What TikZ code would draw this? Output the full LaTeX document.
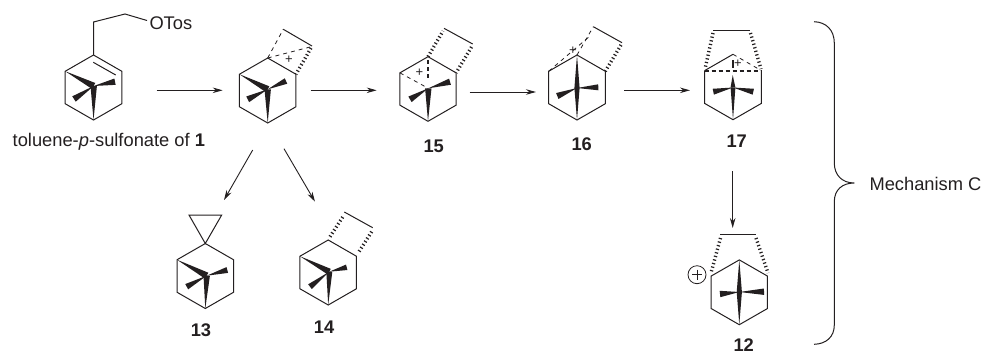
\documentclass[tikz,border=0pt]{standalone}
\usepackage{fontspec}
\setmainfont{Liberation Sans}
\usetikzlibrary{arrows.meta,calc}
\definecolor{ink}{HTML}{231F20}
\tikzset{
  bond/.style={draw=ink,line width=1pt,line join=miter},
  hashb/.style={draw=ink,line width=3.4pt,dash pattern=on 1.2pt off 2.5pt},
  thindash/.style={draw=ink,line width=.8pt,dash pattern=on 4pt off 4pt},
  bolddash/.style={draw=ink,line width=1.8pt,dash pattern=on 4pt off 3pt},
  rxn/.style={draw=ink,line width=.9pt,-{Stealth[length=10pt,width=5.5pt]},shorten >=0pt},
  lab/.style={font=\fontsize{18.3}{20}\selectfont,text=ink,inner sep=0pt},
  num/.style={font=\fontsize{18.3}{20}\selectfont\bfseries,text=ink,inner sep=0pt},
  plus/.style={font=\fontsize{13}{14}\selectfont,text=ink,inner sep=0pt},
}
% hexagon: centre x, centre y, half height
\newcommand{\hexa}[4]{%
  \coordinate (#4t) at (#1,#2-#3);
  \coordinate (#4b) at (#1,#2+#3);
  \coordinate (#4ul) at (#1-0.87*#3,#2-0.5*#3);
  \coordinate (#4ur) at (#1+0.87*#3,#2-0.5*#3);
  \coordinate (#4ll) at (#1-0.87*#3,#2+0.5*#3);
  \coordinate (#4lr) at (#1+0.87*#3,#2+0.5*#3);
}
% wedge: apex, wide end, half width
\newcommand{\wdg}[3]{\fill[ink] (#1) -- ($(#2)!#3!90:(#1)$) -- ($(#2)!#3!-90:(#1)$) -- cycle;}
\begin{document}
\begin{tikzpicture}[x=1pt,y=-1pt]
\useasboundingbox (0,0) rectangle (985,354);
% ---------- starting material
\hexa{93.5}{87.5}{32.5}{A}
\coordinate (Ah) at (93.7,86);
\draw[bond] (At)--(Aur)--(Alr)--(Ab)--(All)--(Aul)--cycle;
\draw[bond] (93.3,62.3)--(115.7,75);
\draw[bond] (At)--(93.5,22)--(125,14)--(147,20.5);
\node[lab,anchor=west] (otos) at (149.3,23) {OTos};
\wdg{Aul}{Ah}{3.4pt}\wdg{Ab}{Ah}{3.2pt}
\wdg{Ah}{115,81.7}{3.2pt}\wdg{Ah}{74,99}{3.2pt}
\node[lab,anchor=west] (tol) at (12.5,142) {toluene-\textit{p}-sulfonate of \textbf{1}};
% ---------- bridged cation
\hexa{267.7}{90.5}{32.5}{B}
\coordinate (Bh) at (267.7,89.3);
\draw[bond] (Bt)--(Bur)--(Blr)--(Bb)--(Bll)--(Bul)--cycle;
\draw[thindash] (Bt)--(283.3,29.3);
\draw[bond] (283.3,29.3)--(312,46);
\draw[thindash] (Bt)--(310,47);
\draw[hashb] (311,48)--(Bur);
\node[plus] (pb) at (289,60) {+};
\wdg{Bul}{Bh}{3.4pt}\wdg{Bb}{Bh}{3.2pt}
\wdg{Bh}{286,81}{3pt}\wdg{Bh}{247.7,99.3}{3.2pt}
% ---------- 15
\hexa{428}{89}{32.3}{C}
\coordinate (Ch) at (428.3,88.3);
\draw[bond] (Ct)--(Cur)--(Clr)--(Cb)--(Cll)--(Cul)--cycle;
\draw[hashb] (Ct)--(443,31);
\draw[bond] (444,28.3)--(472.7,44);
\draw[hashb] (471.5,47)--(Cur);
\draw[bolddash] (428,60)--(428,80);
\draw[thindash] (Cul)--(Ch);
\node[plus] (pc) at (419.3,72.7) {+};
\wdg{Cb}{Ch}{3.2pt}
\wdg{Ch}{450,81.7}{3.2pt}\wdg{Ch}{410,99.3}{3.2pt}
\node[num] (n15) at (433.7,146) {15};
% ---------- 16
\hexa{577}{87.5}{32.5}{D}
\coordinate (Dh) at (577,88);
\draw[bond] (Dt)--(Dur)--(Dlr)--(Db)--(Dll)--(Dul)--cycle;
\draw[thindash] (Dul)--(590,36);
\draw[thindash] (Dt)--(593.3,26.7);
\draw[bond] (593.3,26.7)--(622,42.7);
\draw[hashb] (621,45)--(Dur);
\node[plus] (pd) at (573,50.5) {+};
\wdg{Dt}{Dh}{2.6pt}\wdg{Db}{Dh}{2.6pt}
\wdg{Dh}{598.3,87.3}{3pt}\wdg{Dh}{557.3,96}{3.2pt}
\node[num] (n16) at (581.7,144) {16};
% ---------- 17
\hexa{733}{87}{32.7}{E}
\coordinate (Eh) at (733,87.5);
\draw[bond] (Eul)--(Et);
\draw[bond] (Eur)--(Elr)--(Eb)--(Ell)--(Eul);
\draw[thindash] (Et)--(Eur);
\draw[bond] (713.3,30)--(750,30);
\draw[hashb] (713,33)--(705,69);
\draw[hashb] (750.5,33)--(761,69);
\draw[bolddash] (Eul)--(Eur);
\draw[draw=ink,line width=1.8pt] (733.3,60)--(733.3,68);
\node[plus] (pe) at (738,64) {+};
\wdg{732.7,75}{Eh}{2.4pt}\wdg{Eb}{Eh}{2.4pt}
\wdg{Eh}{753.3,91.7}{3pt}\wdg{Eh}{713.3,91.7}{3pt}
\node[num] (n17) at (736.7,141.7) {17};
% ---------- 12
\hexa{739.3}{292.3}{32.4}{F}
\coordinate (Fh) at (739.3,292);
\draw[bond] (Ft)--(Fur)--(Flr)--(Fb)--(Fll)--(Ful)--cycle;
\draw[bond] (720,234.3)--(756,234.3);
\draw[hashb] (720.5,238)--(711,273);
\draw[hashb] (756,238)--(768,273);
\node[draw=ink,line width=.8pt,circle,minimum size=18pt,inner sep=0pt] (cp) at (697,274.7) {};
\draw[ink,line width=.8pt] (692,274.7)--(702,274.7) (697,269.7)--(697,279.7);
\wdg{Ft}{Fh}{2.6pt}\wdg{Fb}{Fh}{2.6pt}
\wdg{Fh}{764,291.7}{3.2pt}\wdg{Fh}{720,294}{3.2pt}
\node[num] (n12) at (743.7,345.5) {12};
% ---------- 13
\hexa{205.3}{276}{32.5}{G}
\coordinate (Gh) at (206.7,275.7);
\draw[bond] (Gt)--(Gur)--(Glr)--(Gb)--(Gll)--(Gul)--cycle;
\draw[bond] (Gt)--(189,215)--(221.7,215)--cycle;
\wdg{Gul}{Gh}{3.4pt}\wdg{Gb}{Gh}{3.2pt}
\wdg{Gh}{227.3,270}{3pt}\wdg{Gh}{186.7,286.7}{3pt}
\node[num] (n13) at (201,330.7) {13};
% ---------- 14
\hexa{328.2}{272.5}{32.5}{H}
\coordinate (Hh) at (329.3,271.7);
\draw[bond] (Ht)--(Hur)--(Hlr)--(Hb)--(Hll)--(Hul)--cycle;
\draw[hashb] (330,236.7)--(344,215);
\draw[bond] (344.3,212)--(372.7,227.7);
\draw[hashb] (371.7,231.7)--(358.3,252.7);
\wdg{Hul}{Hh}{3.2pt}\wdg{Hb}{Hh}{3pt}
\wdg{Hh}{346.7,267.3}{2.8pt}\wdg{Hh}{310,286.7}{3pt}
\node[num] (n14) at (324,327.3) {14};
% ---------- arrows
\coordinate (a1s) at (156.7,90.3); \coordinate (a1e) at (222.7,90.3);
\coordinate (a2s) at (310.7,90.3); \coordinate (a2e) at (376.7,90.3);
\coordinate (a3s) at (469.7,92);   \coordinate (a3e) at (536,92);
\coordinate (a4s) at (624,90.3);   \coordinate (a4e) at (690,90.3);
\coordinate (a5s) at (732.7,171);  \coordinate (a5e) at (732.7,228);
\coordinate (a6s) at (252.7,150);  \coordinate (a6e) at (224,200);
\coordinate (a7s) at (284,148.7);  \coordinate (a7e) at (315,201.7);
\foreach \k in {1,...,7} {\draw[rxn] (a\k s)--(a\k e);}
% ---------- brace
\draw[ink,line width=1pt] (814,21.7) .. controls (826,22) and (834.3,30) .. (834.3,43)
  -- (834.3,163) .. controls (834.3,175) and (842,183) .. (854.3,183)
  .. controls (842,183) and (834.3,190) .. (834.3,201.7)
  -- (834.3,325) .. controls (834.3,337) and (826,344) .. (814,344.3);
\node[lab,anchor=west] (mech) at (869.3,184) {Mechanism C};
\end{tikzpicture}
\end{document}
